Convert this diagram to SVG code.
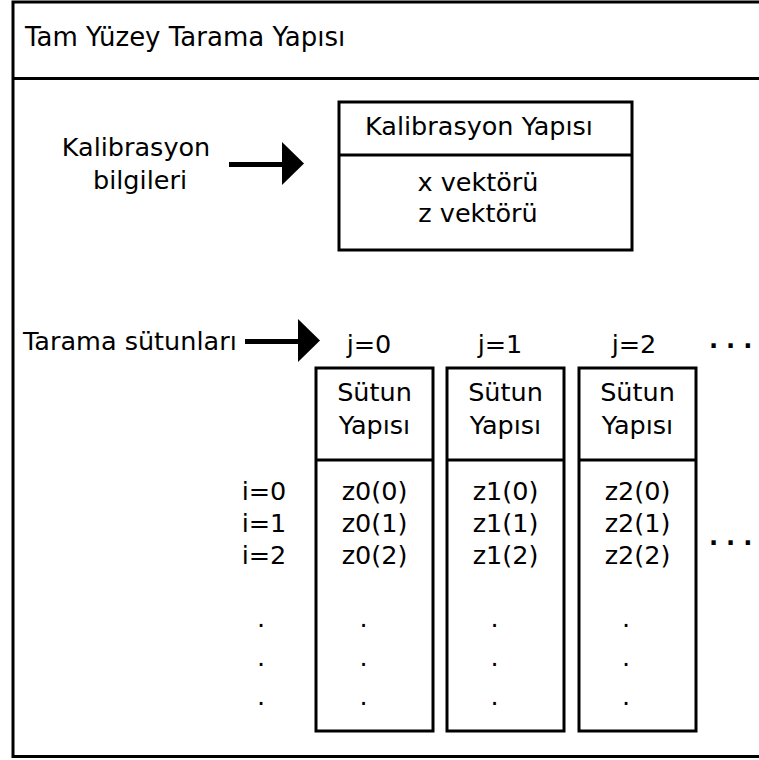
<svg xmlns="http://www.w3.org/2000/svg" width="759" height="760" viewBox="0 0 759 760">
<style>
text{font-family:"DejaVu Sans",sans-serif;font-size:25.5px;fill:#000}
.title{font-size:26px}
.box{fill:#fff;stroke:#000;stroke-width:3}
.ln{stroke:#000;stroke-width:3;fill:none}
.arr{stroke:#000;stroke-width:5;fill:none}
.mid{text-anchor:middle}
.ell{font-weight:bold;font-size:24px;letter-spacing:8px}
</style>
<defs>
<marker id="ah" markerWidth="5" markerHeight="9" refX="0" refY="4.5" orient="auto" markerUnits="strokeWidth">
<path d="M0,0 L4.4,4.3 L0,8.6 Z" fill="#000"/>
</marker>
</defs>
<g id="frame">
<rect class="box" x="13" y="2" width="760" height="754.5"/>
<line class="ln" x1="13" y1="78.5" x2="773" y2="78.5"/>
<text class="title" x="25" y="46">Tam Yüzey Tarama Yapısı</text>
</g>
<g id="calib-label">
<text class="mid" x="136" y="156">Kalibrasyon</text>
<text class="mid" x="140" y="189">bilgileri</text>
</g>
<g id="calib-struct">
<rect class="box" x="339" y="102" width="293" height="148"/>
<line class="ln" x1="339" y1="155" x2="632" y2="155"/>
<text class="mid" x="479" y="135">Kalibrasyon Yapısı</text>
<text class="mid" x="478" y="191">x vektörü</text>
<text class="mid" x="478" y="222">z vektörü</text>
</g>
<g id="scan-label">
<text x="23" y="350">Tarama sütunları</text>
</g>
<g id="row-index">
<text class="mid" x="264" y="500">i=0</text>
<text class="mid" x="264" y="532">i=1</text>
<text class="mid" x="264" y="564">i=2</text>
<text class="mid" x="261" y="627">.</text>
<text class="mid" x="261" y="666">.</text>
<text class="mid" x="261" y="705">.</text>
</g>
<g id="col0">
<text class="mid" x="369" y="353">j=0</text>
<rect class="box" x="316" y="368" width="117" height="363"/>
<line class="ln" x1="316" y1="460" x2="433" y2="460"/>
<text class="mid" x="374.5" y="401">Sütun</text>
<text class="mid" x="374.5" y="434">Yapısı</text>
<text class="mid" x="374.5" y="500">z0(0)</text>
<text class="mid" x="374.5" y="532">z0(1)</text>
<text class="mid" x="374.5" y="564">z0(2)</text>
<text class="mid" x="363.5" y="627">.</text>
<text class="mid" x="363.5" y="666">.</text>
<text class="mid" x="363.5" y="705">.</text>
</g>
<g id="col1">
<text class="mid" x="500" y="353">j=1</text>
<rect class="box" x="447" y="368" width="117" height="363"/>
<line class="ln" x1="447" y1="460" x2="564" y2="460"/>
<text class="mid" x="505.5" y="401">Sütun</text>
<text class="mid" x="505.5" y="434">Yapısı</text>
<text class="mid" x="505.5" y="500">z1(0)</text>
<text class="mid" x="505.5" y="532">z1(1)</text>
<text class="mid" x="505.5" y="564">z1(2)</text>
<text class="mid" x="494.5" y="627">.</text>
<text class="mid" x="494.5" y="666">.</text>
<text class="mid" x="494.5" y="705">.</text>
</g>
<g id="col2">
<text class="mid" x="634" y="353">j=2</text>
<rect class="box" x="579" y="368" width="117" height="363"/>
<line class="ln" x1="579" y1="460" x2="696" y2="460"/>
<text class="mid" x="637.5" y="401">Sütun</text>
<text class="mid" x="637.5" y="434">Yapısı</text>
<text class="mid" x="637.5" y="500">z2(0)</text>
<text class="mid" x="637.5" y="532">z2(1)</text>
<text class="mid" x="637.5" y="564">z2(2)</text>
<text class="mid" x="626" y="627">.</text>
<text class="mid" x="626" y="666">.</text>
<text class="mid" x="626" y="705">.</text>
</g>
<g id="more">
<text class="ell" x="709" y="348">...</text>
<text class="ell" x="709" y="545">...</text>
</g>
<g id="connectors">
<line class="arr" x1="229" y1="164.5" x2="282" y2="164.5" marker-end="url(#ah)"/>
<line class="arr" x1="245" y1="341.5" x2="298" y2="341.5" marker-end="url(#ah)"/>
</g>
</svg>
